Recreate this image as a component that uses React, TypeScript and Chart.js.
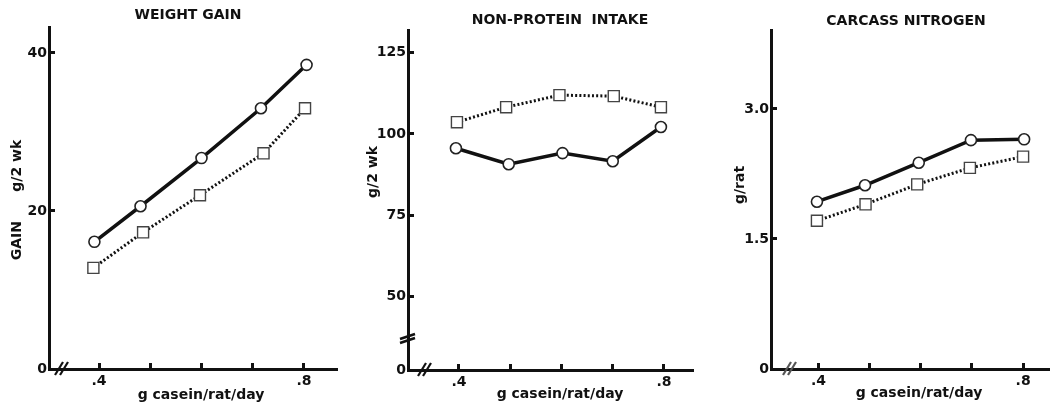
import React, { useEffect, useRef } from 'react';
import { Chart, registerables } from 'chart.js';

Chart.register(...registerables);

// Shared x axis: casein intake, g/rat/day
const caseinTicks = [0.4, 0.5, 0.6, 0.7, 0.8];
const caseinTickLabels = ['.4', '', '', '', '.8'];
const caseinTitle = 'g casein/rat/day';

// WEIGHT GAIN, g/2 wk
const gainCircleX = [0.391, 0.481, 0.6, 0.716, 0.805];
const gainCircleY = [16.1, 20.6, 26.7, 33.0, 38.5];
const gainSquareX = [0.389, 0.486, 0.597, 0.721, 0.802];
const gainSquareY = [12.8, 17.3, 22.0, 27.3, 33.0];
const gainTicks = [0, 20, 40];
const gainTickLabels = ['0', '20', '40'];

// NON-PROTEIN INTAKE, g/2 wk (broken axis: the origin sits below the break)
const intakeCircleX = [0.394, 0.497, 0.602, 0.7, 0.794];
const intakeCircleY = [95.6, 90.7, 94.1, 91.6, 102.1];
const intakeSquareX = [0.396, 0.492, 0.596, 0.702, 0.794];
const intakeSquareY = [103.6, 108.2, 111.9, 111.6, 108.2];
const intakeOrigin = 27.5;
const intakeTicks = [intakeOrigin, 50, 75, 100, 125];
const intakeTickLabels = ['0', '50', '75', '100', '125'];

// CARCASS NITROGEN, g/rat
const nitrogenCircleX = [0.397, 0.491, 0.596, 0.698, 0.802];
const nitrogenCircleY = [1.93, 2.12, 2.38, 2.64, 2.65];
const nitrogenSquareX = [0.397, 0.492, 0.593, 0.696, 0.8];
const nitrogenSquareY = [1.71, 1.9, 2.13, 2.32, 2.45];
const nitrogenTicks = [0, 1.5, 3.0];
const nitrogenTickLabels = ['0', '1.5', '3.0'];

const INK = '#111';
const FONT = '"DejaVu Sans", sans-serif';

type PanelSpec = {
  title: string;
  yTitle: string;
  left: number;
  width: number;
  pad: { left: number; right: number; top: number; bottom: number };
  xHeight: number;
  xMin: number;
  xMax: number;
  yMin: number;
  yMax: number;
  yTicks: number[];
  yTickLabels: string[];
  circleX: number[];
  circleY: number[];
  squareX: number[];
  squareY: number[];
  titleX: number;
  titleY: number;
  yTitleX: number;
  yTitleY: number;
  xTitleX: number;
  xTitleY: number;
  xBreak: number;
  yBreak: number | null;
  breakColor: string;
};

const panels: PanelSpec[] = [
  {
    title: 'WEIGHT GAIN',
    yTitle: 'GAIN      g/2 wk',
    left: 0,
    width: 352,
    pad: { left: 9, right: 15, top: 27, bottom: 0 },
    xHeight: 38,
    xMin: 0.3024,
    xMax: 0.8644,
    yMin: 0,
    yMax: 43.29,
    yTicks: gainTicks,
    yTickLabels: gainTickLabels,
    circleX: gainCircleX,
    circleY: gainCircleY,
    squareX: gainSquareX,
    squareY: gainSquareY,
    titleX: 188,
    titleY: 19,
    yTitleX: 21,
    yTitleY: 200,
    xTitleX: 201,
    xTitleY: 399,
    xBreak: 10,
    yBreak: null,
    breakColor: INK,
  },
  {
    title: 'NON-PROTEIN  INTAKE',
    yTitle: 'g/2 wk',
    left: 352,
    width: 354,
    pad: { left: 16, right: 13, top: 30, bottom: 0 },
    xHeight: 37,
    xMin: 0.3005,
    xMax: 0.8566,
    yMin: intakeOrigin,
    yMax: 131.9,
    yTicks: intakeTicks,
    yTickLabels: intakeTickLabels,
    circleX: intakeCircleX,
    circleY: intakeCircleY,
    squareX: intakeSquareX,
    squareY: intakeSquareY,
    titleX: 560,
    titleY: 24,
    yTitleX: 377,
    yTitleY: 172,
    xTitleX: 560,
    xTitleY: 398,
    xBreak: 14,
    yBreak: 30,
    breakColor: INK,
  },
  {
    title: 'CARCASS NITROGEN',
    yTitle: 'g/rat',
    left: 706,
    width: 353,
    pad: { left: 25, right: 6, top: 30, bottom: 0 },
    xHeight: 38,
    xMin: 0.3072,
    xMax: 0.8522,
    yMin: 0,
    yMax: 3.911,
    yTicks: nitrogenTicks,
    yTickLabels: nitrogenTickLabels,
    circleX: nitrogenCircleX,
    circleY: nitrogenCircleY,
    squareX: nitrogenSquareX,
    squareY: nitrogenSquareY,
    titleX: 906,
    titleY: 25,
    yTitleX: 744,
    yTitleY: 185,
    xTitleX: 919,
    xTitleY: 397,
    xBreak: 16,
    yBreak: null,
    breakColor: '#555',
  },
];

// Titles, axis captions and the axis-break marks
const decorations = {
  id: 'decorations',
  afterDraw(chart: any, _args: any, opts: any) {
    const ctx: CanvasRenderingContext2D = chart.ctx;
    const area = chart.chartArea;
    const dx = opts.offset;
    ctx.save();
    ctx.fillStyle = INK;
    ctx.font = `bold 14px ${FONT}`;
    ctx.textAlign = 'center';
    ctx.textBaseline = 'alphabetic';
    ctx.fillText(opts.title, opts.titleX - dx, opts.titleY);
    ctx.fillText(caseinTitle, opts.xTitleX - dx, opts.xTitleY);
    ctx.save();
    ctx.translate(opts.yTitleX - dx, opts.yTitleY);
    ctx.rotate(-Math.PI / 2);
    ctx.fillText(opts.yTitle, 0, 0);
    ctx.restore();

    ctx.strokeStyle = opts.breakColor;
    ctx.lineWidth = 2.2;
    ctx.lineCap = 'butt';
    for (const gap of [0, 5]) {
      const bx = area.left + opts.xBreak + gap;
      ctx.beginPath();
      ctx.moveTo(bx - 4, area.bottom + 6);
      ctx.lineTo(bx + 4, area.bottom - 7);
      ctx.stroke();
    }
    if (opts.yBreak !== null) {
      ctx.strokeStyle = INK;
      ctx.lineWidth = 2.6;
      for (const gap of [0, 4]) {
        const by = area.bottom - opts.yBreak - gap;
        ctx.beginPath();
        ctx.moveTo(area.left - 8, by + 3);
        ctx.lineTo(area.left + 7, by - 2);
        ctx.stroke();
      }
    }
    ctx.restore();
  },
};

function ChartPanel({ spec }: { spec: PanelSpec }) {
  const canvasRef = useRef<HTMLCanvasElement | null>(null);

  useEffect(() => {
    if (!canvasRef.current) return;
    const tickFont = { family: FONT, size: 14, weight: 'bold' as const };
    const axisGrid = {
      display: true,
      drawOnChartArea: false,
      drawTicks: true,
      tickLength: -6,
      tickWidth: 3,
      tickColor: INK,
    };
    const axisBorder = { display: true, width: 3, color: INK };

    const chart = new Chart(canvasRef.current, {
      type: 'line',
      data: {
        datasets: [
          {
            data: spec.circleX.map((x, i) => ({ x, y: spec.circleY[i] })),
            borderColor: INK,
            borderWidth: 3.5,
            pointStyle: 'circle',
            pointRadius: 5.5,
            pointBorderWidth: 1.6,
            pointBorderColor: '#222',
            pointBackgroundColor: '#fff',
            tension: 0,
            clip: false,
          },
          {
            data: spec.squareX.map((x, i) => ({ x, y: spec.squareY[i] })),
            borderColor: INK,
            borderWidth: 3,
            borderDash: [2, 2.2],
            pointStyle: 'rect',
            pointRadius: 7.8,
            pointBorderWidth: 1.4,
            pointBorderColor: '#444',
            pointBackgroundColor: '#fff',
            tension: 0,
            clip: false,
          },
        ],
      },
      options: {
        animation: false,
        responsive: true,
        maintainAspectRatio: false,
        layout: { padding: spec.pad },
        plugins: {
          legend: { display: false },
          tooltip: { enabled: false },
          title: { display: false },
          decorations: {
            offset: spec.left,
            title: spec.title,
            yTitle: spec.yTitle,
            titleX: spec.titleX,
            titleY: spec.titleY,
            yTitleX: spec.yTitleX,
            yTitleY: spec.yTitleY,
            xTitleX: spec.xTitleX,
            xTitleY: spec.xTitleY,
            xBreak: spec.xBreak,
            yBreak: spec.yBreak,
            breakColor: spec.breakColor,
          },
        } as any,
        scales: {
          x: {
            type: 'linear',
            min: spec.xMin,
            max: spec.xMax,
            afterBuildTicks: (scale: any) => {
              scale.ticks = caseinTicks.map((value) => ({ value }));
            },
            afterFit: (scale: any) => {
              scale.height = spec.xHeight;
            },
            ticks: {
              autoSkip: false,
              maxRotation: 0,
              padding: 10,
              color: INK,
              font: tickFont,
              callback: (_v: any, i: number) => caseinTickLabels[i],
            },
            grid: axisGrid,
            border: axisBorder,
          },
          y: {
            type: 'linear',
            min: spec.yMin,
            max: spec.yMax,
            afterBuildTicks: (scale: any) => {
              scale.ticks = spec.yTicks.map((value) => ({ value }));
            },
            afterFit: (scale: any) => {
              scale.width = 40;
            },
            ticks: {
              autoSkip: false,
              padding: 8,
              color: INK,
              font: tickFont,
              callback: (_v: any, i: number) => spec.yTickLabels[i],
            },
            grid: axisGrid,
            border: axisBorder,
          },
        },
      },
      plugins: [decorations],
    } as any);

    return () => chart.destroy();
  }, [spec]);

  return (
    <div
      style={{
        position: 'absolute',
        left: spec.left,
        top: 0,
        width: spec.width,
        height: 407,
      }}
    >
      <canvas ref={canvasRef} />
    </div>
  );
}

export default function App() {
  return (
    <div
      style={{
        position: 'fixed',
        left: 0,
        top: 0,
        width: 1059,
        height: 407,
        background: '#fff',
        overflow: 'hidden',
      }}
    >
      {panels.map((p) => (
        <ChartPanel key={p.title} spec={p} />
      ))}
    </div>
  );
}
